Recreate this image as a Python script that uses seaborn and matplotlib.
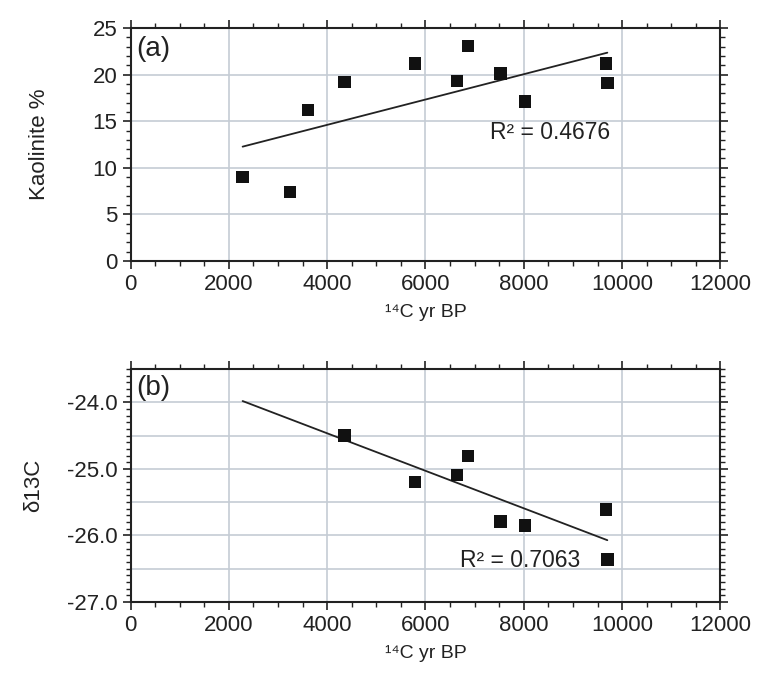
import numpy as np
import pandas as pd
import matplotlib
matplotlib.use("Agg")
import matplotlib.pyplot as plt
from matplotlib.ticker import MultipleLocator, FormatStrFormatter
import seaborn as sns

# ---- data ----
age_bp = [2280, 3240, 3610, 4350, 5790, 6640, 6860, 7530, 8030, 9670, 9700]
kaolinite = [9.0, 7.4, 16.2, 19.2, 21.2, 19.3, 23.1, 20.1, 17.1, 21.2, 19.1]
delta13c = [np.nan, np.nan, np.nan, -24.50, -25.20, -25.09, -24.81, -25.79, -25.85, -25.61, -26.36]
r2_labels = ["R² = 0.4676", "R² = 0.7063"]
panel_labels = ["(a)", "(b)"]

sns.set_style("ticks")
plt.rcParams["font.family"] = ["Liberation Sans", "DejaVu Sans"]

df = pd.DataFrame({"age": age_bp, "kao": kaolinite, "d13c": delta13c})

fig = plt.figure(figsize=(7.68, 6.77), dpi=100)
ax1 = fig.add_axes([0.170, 0.6145, 0.768, 0.3441])
ax2 = fig.add_axes([0.170, 0.1108, 0.768, 0.3441])

grid_col = "#c5ccd4"
txt = "#222222"
fs = 16

def trend(ax, x, y, xr):
    m = ~np.isnan(y)
    k, b = np.polyfit(np.asarray(x)[m], np.asarray(y)[m], 1)
    xs = np.array([min(xr), max(xr)])
    line = pd.DataFrame({"x": xs, "y": k * xs + b})
    sns.lineplot(data=line, x="x", y="y", ax=ax, color="#222222", linewidth=1.3, zorder=3)

def style(ax):
    ax.set_xlim(0, 12000)
    ax.xaxis.set_major_locator(MultipleLocator(2000))
    ax.xaxis.set_minor_locator(MultipleLocator(500))
    ax.grid(True, which="major", color=grid_col, linewidth=1.2, zorder=0)
    ax.set_axisbelow(True)
    ax.tick_params(which="both", direction="out", top=True, right=True,
                   labeltop=False, labelright=False, colors=txt)
    ax.tick_params(which="major", length=6, width=1.2, labelsize=fs, pad=3.5)
    ax.tick_params(which="minor", length=3.5, width=1.0)
    for s in ax.spines.values():
        s.set_color(txt)
        s.set_linewidth(1.5)
    ax.set_xlabel("¹⁴C yr BP", fontsize=14, labelpad=6, color=txt)

# panel (a)
sns.scatterplot(data=df, x="age", y="kao", ax=ax1, marker="s", s=80,
                color="#111111", edgecolor="none", zorder=4)
trend(ax1, df["age"], df["kao"].values, age_bp)
style(ax1)
ax1.set_ylim(0, 25)
ax1.yaxis.set_major_locator(MultipleLocator(5))
ax1.yaxis.set_minor_locator(MultipleLocator(1))
ax1.set_ylabel("Kaolinite %", fontsize=16, color=txt)
ax1.yaxis.set_label_coords(-0.136, 0.5)
ax1.text(0.01, 0.965, panel_labels[0], transform=ax1.transAxes, fontsize=20,
         ha="left", va="top", color=txt)
ax1.text(9750, 13.8, r2_labels[0], fontsize=16.5, ha="right", va="center", color=txt)

# panel (b)
sns.scatterplot(data=df.dropna(), x="age", y="d13c", ax=ax2, marker="s", s=80,
                color="#111111", edgecolor="none", zorder=4)
trend(ax2, df["age"], df["d13c"].values, age_bp)
style(ax2)
ax2.set_ylim(-27.0, -23.5)
ax2.yaxis.set_major_locator(MultipleLocator(1.0))
ax2.yaxis.set_minor_locator(MultipleLocator(0.1))
ax2.yaxis.set_major_formatter(FormatStrFormatter("%.1f"))
for yv in [-26.5, -25.5, -24.5]:
    ax2.axhline(yv, color=grid_col, linewidth=1.2, zorder=0)
ax2.set_ylabel("δ13C", fontsize=16, color=txt)
ax2.yaxis.set_label_coords(-0.147, 0.5)
ax2.text(0.01, 0.975, panel_labels[1], transform=ax2.transAxes, fontsize=20,
         ha="left", va="top", color=txt)
ax2.text(9140, -26.38, r2_labels[1], fontsize=16.5, ha="right", va="center", color=txt)

fig.savefig("out.png", dpi=100)
